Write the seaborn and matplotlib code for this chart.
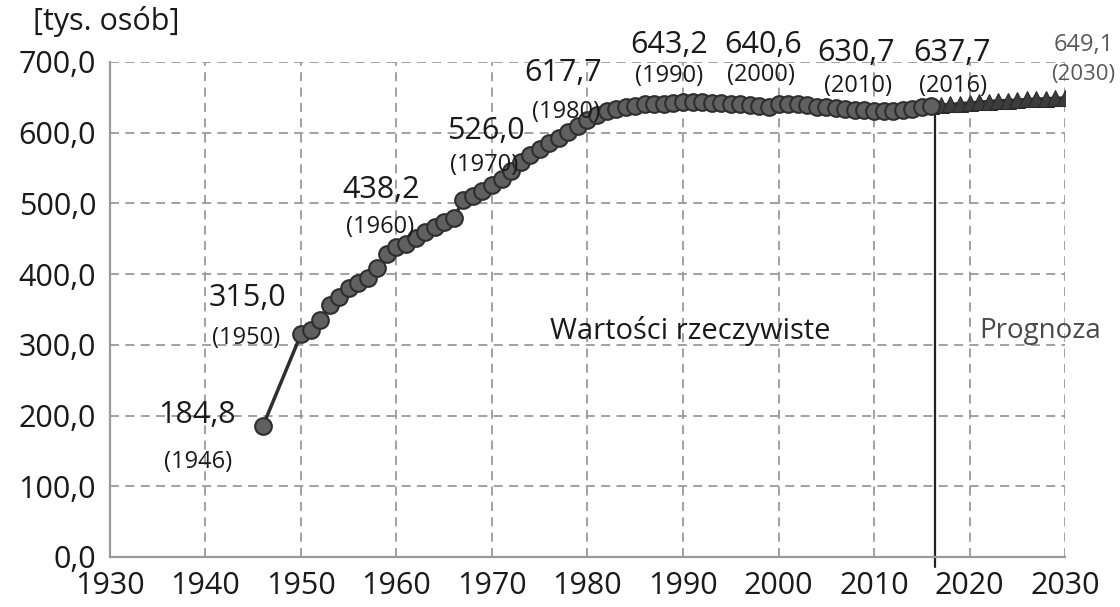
import numpy as np
import pandas as pd
import matplotlib
matplotlib.use("Agg")
import matplotlib.pyplot as plt
import seaborn as sns
from matplotlib.ticker import FuncFormatter

# rzeczywiste (1946, 1950-2016)
years_actual = [1946] + list(range(1950, 2017))
values_actual = [
    184.8,
    315.0, 321, 335, 356, 368, 380, 387, 395, 408, 428,
    438.2, 443, 451, 460, 466, 473, 479, 505, 510, 517,
    526.0, 534, 546, 558, 568, 577, 585, 593, 601, 609,
    617.7, 625, 630, 633, 636, 638, 640, 640, 640, 642,
    643.2, 643, 643, 642, 642, 641, 640, 639, 638, 637,
    640.6, 640, 640, 639, 637, 636, 635, 633, 632, 632,
    630.7, 631, 631, 632, 634, 636, 637.7,
]

# prognoza 2016-2030
years_forecast = list(range(2016, 2031))
values_forecast = [637.7, 639, 640, 641, 642, 643, 644, 645, 645.5, 646,
                   647, 647.5, 648, 648.5, 649.1]

label_years = [1946, 1950, 1960, 1970, 1980, 1990, 2000, 2010, 2016]
label_values = [184.8, 315.0, 438.2, 526.0, 617.7, 643.2, 640.6, 630.7, 637.7]
# label offsets in pixels (value label, year label)
value_offsets = [(-66, 11), (-53, 36), (-15, 57), (-6, 54), (-24, 47),
                 (-14, 57), (-15, 59), (-18, 58), (21, 53)]
year_offsets = [(-65, -36), (-55, -4), (-16, 20), (-8, 20), (-21, 8),
                (-14, 26), (-18, 29), (-16, 25), (22, 20)]

df_actual = pd.DataFrame({"rok": years_actual, "ludnosc": values_actual})
df_forecast = pd.DataFrame({"rok": years_forecast, "ludnosc": values_forecast})

sns.set_style("white")
plt.rcParams["font.family"] = ["Open Sans", "DejaVu Sans"]

fig = plt.figure(figsize=(11.2, 6.07), dpi=100)
ax = fig.add_axes([0.0982, 0.0824, 0.8527, 0.8155])

sns.lineplot(data=df_forecast, x="rok", y="ludnosc", ax=ax, color="#2e2e2e",
             linewidth=2.5, marker="^", markersize=11,
             markerfacecolor="#3c3c3c", markeredgecolor="#2a2a2a", zorder=3)
sns.lineplot(data=df_actual, x="rok", y="ludnosc", ax=ax, color="#2e2e2e",
             linewidth=2.5, marker="o", markersize=12,
             markerfacecolor="#606060", markeredgecolor="#2e2e2e",
             markeredgewidth=1.5, zorder=4)

# linia podziału
ax.plot([2016.4, 2016.4], [-14, 637.7], color="#222222", linewidth=1.6,
        clip_on=False, zorder=2)

ax.set_xlim(1930, 2030)
ax.set_ylim(0, 700)
ax.set_xticks(range(1930, 2031, 10))
ax.set_yticks(range(0, 701, 100))
ax.yaxis.set_major_formatter(FuncFormatter(lambda v, p: f"{v:.1f}".replace(".", ",")))
ax.set_xlabel("")
ax.set_ylabel("")

ax.grid(True, color="#9a9a9a", linestyle=(0, (5, 3.5)), linewidth=1.3)
for s in ["top", "right"]:
    ax.spines[s].set_visible(False)
for s in ["left", "bottom"]:
    ax.spines[s].set_color("#9a9a9a")
    ax.spines[s].set_linewidth(1.6)
ax.tick_params(axis="both", direction="out", length=7, width=1.6,
               color="#9a9a9a", labelsize=22, labelcolor="#1a1a1a", pad=3)

for yr, val, vo, yo in zip(label_years, label_values, value_offsets, year_offsets):
    ax.annotate(f"{val:.1f}".replace(".", ","), xy=(yr, val), xytext=vo,
                textcoords="offset pixels", ha="center", va="center",
                fontsize=22, color="#1a1a1a", zorder=5)
    ax.annotate(f"({yr})", xy=(yr, val), xytext=yo, textcoords="offset pixels",
                ha="center", va="center", fontsize=17, color="#1a1a1a", zorder=5)

ax.annotate("649,1", xy=(2030, 649.1), xytext=(19, 53), textcoords="offset pixels",
            ha="center", va="center", fontsize=17, color="#5a5a5a",
            annotation_clip=False)
ax.annotate("(2030)", xy=(2030, 649.1), xytext=(18, 23), textcoords="offset pixels",
            ha="center", va="center", fontsize=16, color="#5a5a5a",
            annotation_clip=False)

ax.text(1990.8, 320, "Wartości rzeczywiste", ha="center", va="center",
        fontsize=21, color="#1a1a1a")
ax.text(2027.4, 320, "Prognoza", ha="center", va="center",
        fontsize=20, color="#4a4a4a")
fig.text(0.095, 0.965, "[tys. osób]", ha="center", va="center",
         fontsize=22, color="#1a1a1a")

fig.savefig("out.png", dpi=100)
